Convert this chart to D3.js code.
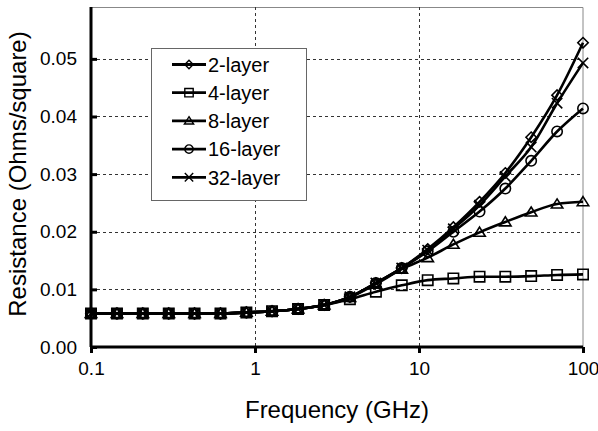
<!DOCTYPE html>
<html>
<head>
    <title>Resistance vs Frequency</title>
    <script src="https://d3js.org/d3.v7.min.js"></script>
    <style>
        body { margin: 0; background: #fff; }
        svg { font-family: "Liberation Sans", Arial, sans-serif; }
        .grid line { stroke: #333; stroke-width: 1; stroke-dasharray: 3,3; }
    </style>
</head>
<body>
    <svg width="598" height="431"></svg>
    <script>

        // frequencies (GHz), 20 log-spaced points
        const freqs = [0.1, 0.144, 0.207, 0.298, 0.428, 0.616, 0.886, 1.27, 1.83, 2.64,
                       3.79, 5.46, 7.85, 11.3, 16.2, 23.4, 33.6, 48.3, 69.5, 100];

        // resistance (Ohms/square)
        const layer2  = [0.0058, 0.0058, 0.0058, 0.0058, 0.0058, 0.0058, 0.0060, 0.0062, 0.0066, 0.0073,
                         0.0087, 0.0111, 0.0137, 0.0170, 0.0208, 0.0252, 0.0302, 0.0364, 0.0437, 0.0528];
        const layer4  = [0.0058, 0.0058, 0.0058, 0.0058, 0.0058, 0.0058, 0.0060, 0.0062, 0.0066, 0.0073,
                         0.0083, 0.0096, 0.0107, 0.0116, 0.0119, 0.0122, 0.0122, 0.0123, 0.0125, 0.0126];
        const layer8  = [0.0058, 0.0058, 0.0058, 0.0058, 0.0058, 0.0058, 0.0060, 0.0062, 0.0066, 0.0073,
                         0.0086, 0.0109, 0.0135, 0.0155, 0.0178, 0.0199, 0.0217, 0.0234, 0.0248, 0.0252];
        const layer16 = [0.0058, 0.0058, 0.0058, 0.0058, 0.0058, 0.0058, 0.0060, 0.0062, 0.0066, 0.0073,
                         0.0087, 0.0111, 0.0137, 0.0166, 0.0200, 0.0235, 0.0275, 0.0323, 0.0374, 0.0414];
        const layer32 = [0.0058, 0.0058, 0.0058, 0.0058, 0.0058, 0.0058, 0.0060, 0.0062, 0.0066, 0.0073,
                         0.0087, 0.0111, 0.0137, 0.0168, 0.0205, 0.0246, 0.0296, 0.0347, 0.0423, 0.0493];

        const seriesNames = ["2-layer", "4-layer", "8-layer", "16-layer", "32-layer"];
        const markerTypes = ["diamond", "square", "triangle", "circle", "cross"];

        const xTicks = [0.1, 1, 10, 100];
        const yTicks = [0, 0.01, 0.02, 0.03, 0.04, 0.05];

        const series = [layer2, layer4, layer8, layer16, layer32].map((vals, i) => ({
            name: seriesNames[i],
            marker: markerTypes[i],
            values: vals.map((v, j) => ({ f: freqs[j], r: v }))
        }));

        const svg = d3.select("svg"),
            margin = { top: 7, right: 15, bottom: 84, left: 91 },
            width = +svg.attr("width") - margin.left - margin.right,
            height = +svg.attr("height") - margin.top - margin.bottom,
            g = svg.append("g").attr("transform", "translate(" + margin.left + "," + margin.top + ")");

        const x = d3.scaleLog().domain([0.1, 100]).range([0, width]);
        const y = d3.scaleLinear().domain([0, 0.059]).range([height, 0]);

        // marker path for a given type and half size
        function markerPath(type, r) {
            const p = d3.path();
            if (type === "diamond") {
                p.moveTo(0, -r); p.lineTo(r, 0); p.lineTo(0, r); p.lineTo(-r, 0); p.closePath();
            } else if (type === "square") {
                p.rect(-r, -r, 2 * r, 2 * r);
            } else if (type === "triangle") {
                p.moveTo(0, -r); p.lineTo(r * 1.1, r * 0.75); p.lineTo(-r * 1.1, r * 0.75); p.closePath();
            } else if (type === "circle") {
                p.moveTo(r, 0); p.arc(0, 0, r, 0, 2 * Math.PI);
            } else {
                p.moveTo(-r, -r); p.lineTo(r, r); p.moveTo(r, -r); p.lineTo(-r, r);
            }
            return p.toString();
        }

        // plot frame (top / right thin gray)
        g.append("path")
            .attr("d", "M0,0.5H" + width + "V" + height)
            .attr("fill", "none")
            .attr("stroke", "#888")
            .attr("stroke-width", 1);

        // grid lines
        const grid = g.append("g").attr("class", "grid");
        grid.selectAll("line.h")
            .data(yTicks.filter(d => d > 0))
            .enter().append("line")
            .attr("x1", 0).attr("x2", width)
            .attr("y1", d => Math.round(y(d)) + 0.5).attr("y2", d => Math.round(y(d)) + 0.5);
        grid.selectAll("line.v")
            .data([1, 10])
            .enter().append("line")
            .attr("x1", d => Math.round(x(d)) + 0.5).attr("x2", d => Math.round(x(d)) + 0.5)
            .attr("y1", 0).attr("y2", height);

        // series lines
        const line = d3.line()
            .x(d => x(d.f))
            .y(d => y(d.r))
            .curve(d3.curveMonotoneX);

        series.forEach(s => {
            g.append("path")
                .datum(s.values)
                .attr("fill", "none")
                .attr("stroke", "#000")
                .attr("stroke-width", 2.6)
                .attr("stroke-linejoin", "round")
                .attr("d", line);
        });

        series.forEach(s => {
            g.append("g").selectAll("path")
                .data(s.values)
                .enter().append("path")
                .attr("transform", d => "translate(" + x(d.f) + "," + y(d.r) + ")")
                .attr("d", markerPath(s.marker, 5.2))
                .attr("fill", "none")
                .attr("stroke", "#000")
                .attr("stroke-width", 1.6);
        });

        // Y axis
        const yAxis = g.append("g")
            .call(d3.axisLeft(y).tickValues(yTicks).tickFormat(d3.format(".2f"))
                .tickSize(-6).tickPadding(14));
        yAxis.select(".domain").attr("stroke-width", 3).attr("d", "M0,0V" + height);
        yAxis.selectAll(".tick line").attr("stroke-width", 3);
        yAxis.selectAll("text").style("font-size", "19px").attr("fill", "#000");

        // X axis
        const xAxis = g.append("g")
            .attr("transform", "translate(0," + height + ")")
            .call(d3.axisBottom(x).tickValues(xTicks).tickFormat(d => d)
                .tickSize(6).tickPadding(9));
        xAxis.select(".domain").attr("stroke-width", 3).attr("d", "M0,0H" + width);
        xAxis.selectAll(".tick line").attr("stroke-width", 3);
        xAxis.selectAll("text").style("font-size", "19px").attr("fill", "#000");

        // axis titles
        svg.append("text")
            .attr("x", margin.left + width / 2)
            .attr("y", 418)
            .attr("text-anchor", "middle")
            .style("font-size", "24px")
            .text("Frequency (GHz)");

        svg.append("text")
            .attr("transform", "translate(26,174) rotate(-90)")
            .attr("text-anchor", "middle")
            .style("font-size", "24px")
            .text("Resistance (Ohms/square)");

        // legend
        const legend = svg.append("g");
        legend.append("rect")
            .attr("x", 151.5).attr("y", 48.5)
            .attr("width", 155).attr("height", 152)
            .attr("fill", "#fff")
            .attr("stroke", "#666")
            .attr("stroke-width", 1);

        series.forEach((s, i) => {
            const ly = 64.5 + i * 28.2;
            legend.append("line")
                .attr("x1", 172).attr("x2", 206)
                .attr("y1", ly).attr("y2", ly)
                .attr("stroke", "#000").attr("stroke-width", 2.8);
            legend.append("path")
                .attr("transform", "translate(189," + ly + ")")
                .attr("d", markerPath(s.marker, 4.2))
                .attr("fill", "none")
                .attr("stroke", "#000")
                .attr("stroke-width", 1.4);
            legend.append("text")
                .attr("x", 208).attr("y", ly)
                .attr("dy", "0.36em")
                .style("font-size", "20px")
                .text(s.name);
        });

    </script>
</body>
</html>
